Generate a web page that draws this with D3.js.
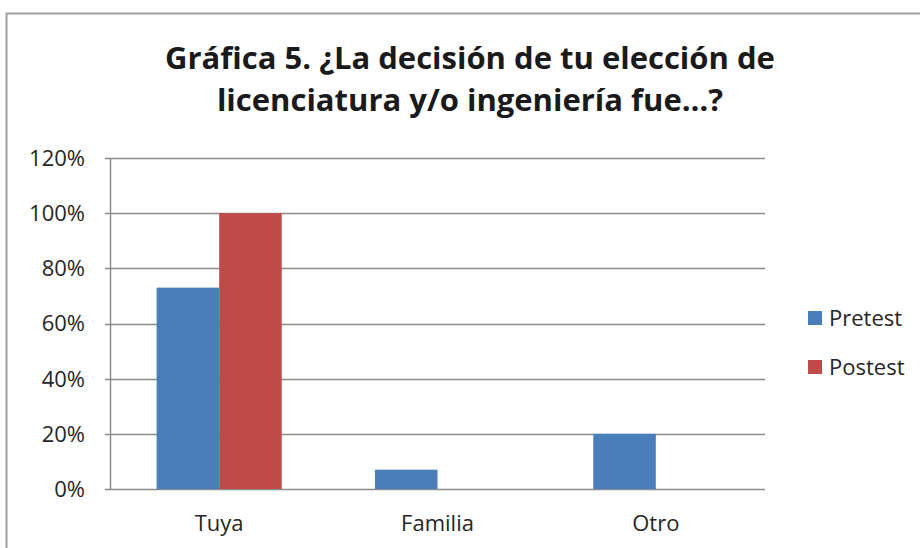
<!DOCTYPE html>
<meta charset="utf-8">
<style>
  body { margin: 0; background: #fff; }
  text { font-family: "Open Sans", "Noto Sans", sans-serif; }
</style>
<svg width="920" height="548"></svg>
<script src="https://d3js.org/d3.v7.min.js"></script>
<script>
// categories and series
var categories = ["Tuya", "Familia", "Otro"]
var seriesNames = ["Pretest", "Postest"]
var pretest = [0.73, 0.07, 0.20]
var postest = [1.00, 0, 0]
var yTicks = [0, 0.2, 0.4, 0.6, 0.8, 1.0, 1.2]
var colors = ["#4a7ebb", "#be4b48"]
var titleLines = ["Gráfica 5. ¿La decisión de tu elección de", "licenciatura y/o ingeniería fue…?"]

var svg = d3.select("svg")

// outer chart frame (cut off at right and bottom)
svg.append("rect")
  .attr("x", 6.5).attr("y", 13.5)
  .attr("width", 1000).attr("height", 1000)
  .attr("fill", "none")
  .attr("stroke", "#a0a0a0")
  .attr("stroke-width", 2)

var plot = { left: 110, right: 765, top: 158, bottom: 489 }

var x = d3.scaleBand()
  .domain(categories)
  .range([plot.left, plot.right])
  .paddingInner(0.427)
  .paddingOuter(0.2135)

var xs = d3.scaleBand()
  .domain(seriesNames)
  .range([0, x.bandwidth()])

var y = d3.scaleLinear()
  .domain([0, 1.2])
  .range([plot.bottom, plot.top])

// gridlines
svg.append("g")
  .selectAll("line")
  .data(yTicks)
  .join("line")
  .attr("x1", plot.left - 5)
  .attr("x2", plot.right)
  .attr("y1", function (d) { return Math.round(y(d)) + 0.5 })
  .attr("y2", function (d) { return Math.round(y(d)) + 0.5 })
  .attr("stroke", "#8c8c8c")
  .attr("stroke-width", 1.5)

// y axis line
svg.append("line")
  .attr("x1", plot.left + 0.5).attr("x2", plot.left + 0.5)
  .attr("y1", plot.top).attr("y2", plot.bottom)
  .attr("stroke", "#8c8c8c")
  .attr("stroke-width", 1.5)

// y tick labels
svg.append("g")
  .selectAll("text")
  .data(yTicks)
  .join("text")
  .attr("x", 85)
  .attr("y", function (d) { return y(d) })
  .attr("dy", "0.36em")
  .attr("text-anchor", "end")
  .attr("font-size", 22)
  .attr("fill", "#262626")
  .text(d3.format(".0%"))

// bars
var rows = categories.map(function (c, i) {
  return { cat: c, values: [pretest[i], postest[i]] }
})

var groups = svg.append("g")
  .selectAll("g")
  .data(rows)
  .join("g")
  .attr("transform", function (d) { return "translate(" + x(d.cat) + ",0)" })

groups.selectAll("rect")
  .data(function (d) { return d.values.map(function (v, i) { return { s: seriesNames[i], v: v, i: i } }) })
  .join("rect")
  .attr("x", function (d) { return xs(d.s) })
  .attr("width", xs.bandwidth())
  .attr("y", function (d) { return y(d.v) })
  .attr("height", function (d) { return y(0) - y(d.v) })
  .attr("fill", function (d) { return colors[d.i] })

// category labels
svg.append("g")
  .selectAll("text")
  .data(categories)
  .join("text")
  .attr("x", function (d) { return x(d) + x.bandwidth() / 2 })
  .attr("y", 531)
  .attr("text-anchor", "middle")
  .attr("font-size", 22)
  .attr("fill", "#262626")
  .text(function (d) { return d })

// legend
var legend = svg.append("g")
  .selectAll("g")
  .data(seriesNames)
  .join("g")
  .attr("transform", function (d, i) { return "translate(808," + (318 + i * 49) + ")" })

legend.append("rect")
  .attr("x", 0).attr("y", -7)
  .attr("width", 14).attr("height", 14)
  .attr("fill", function (d, i) { return colors[i] })

legend.append("text")
  .attr("x", 21)
  .attr("dy", "0.36em")
  .attr("font-size", 22)
  .attr("fill", "#262626")
  .text(function (d) { return d })

// title
svg.append("g")
  .selectAll("text")
  .data(titleLines)
  .join("text")
  .attr("x", 470)
  .attr("y", function (d, i) { return 69 + i * 42 })
  .attr("text-anchor", "middle")
  .attr("font-size", 31)
  .attr("font-weight", "bold")
  .attr("fill", "#1a1a1a")
  .text(function (d) { return d })
</script>
